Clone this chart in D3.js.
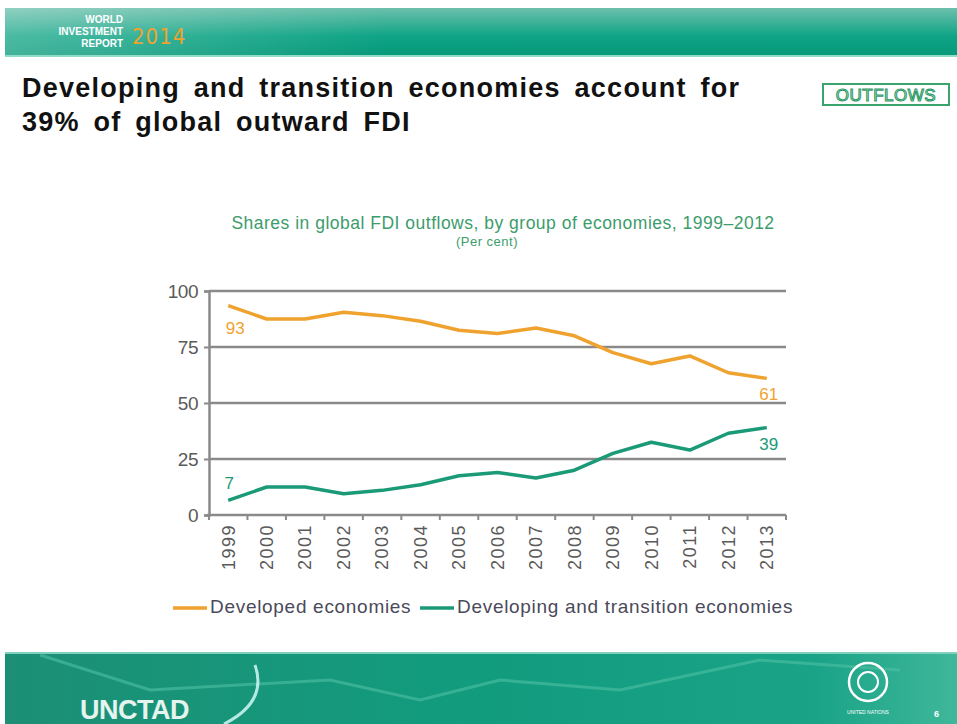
<!DOCTYPE html>
<html><head><meta charset="utf-8">
<script src="https://cdn.jsdelivr.net/npm/d3@7/dist/d3.min.js"></script>
<style>
html,body{margin:0;padding:0;background:#fff;}
svg{display:block;font-family:"Liberation Sans",Arial,sans-serif;}
</style></head>
<body><svg id="c" width="957" height="724"></svg>
<script>
const years = ["1999","2000","2001","2002","2003","2004","2005","2006","2007","2008","2009","2010","2011","2012","2013"];
const developed = [93.5,87.5,87.5,90.5,89,86.5,82.5,81,83.5,80,72.5,67.5,71,63.5,61];
const developing = [6.5,12.5,12.5,9.5,11,13.5,17.5,19,16.5,20,27.5,32.5,29,36.5,39];
const yTicks = [0,25,50,75,100];
const seriesNames = ["Developed economies","Developing and transition economies"];
const colors = ["#f0a22e","#1b9a78"];

const svg = d3.select("#c");
const defs = svg.append("defs");
const hg = defs.append("linearGradient").attr("id","hg").attr("x1",0).attr("x2",0).attr("y1",0).attr("y2",1);
hg.append("stop").attr("offset","0%").attr("stop-color","#6cc0ac");
hg.append("stop").attr("offset","60%").attr("stop-color","#0fa485");
hg.append("stop").attr("offset","100%").attr("stop-color","#06997a");
const hg2 = defs.append("linearGradient").attr("id","hg2").attr("x1",0).attr("x2",1);
hg2.append("stop").attr("offset","0%").attr("stop-color","#ffffff").attr("stop-opacity",0.25);
hg2.append("stop").attr("offset","40%").attr("stop-color","#ffffff").attr("stop-opacity",0);
const fg = defs.append("linearGradient").attr("id","fg").attr("x1",0).attr("x2",1);
fg.append("stop").attr("offset","0%").attr("stop-color","#1c8f76");
fg.append("stop").attr("offset","50%").attr("stop-color","#129c7e");
fg.append("stop").attr("offset","85%").attr("stop-color","#1aa387");
fg.append("stop").attr("offset","100%").attr("stop-color","#3fb79a");

// header
svg.append("rect").attr("x",5).attr("y",8).attr("width",952).attr("height",47).attr("fill","url(#hg)");
svg.append("rect").attr("x",5).attr("y",8).attr("width",952).attr("height",47).attr("fill","url(#hg2)");
svg.append("rect").attr("x",5).attr("y",55).attr("width",952).attr("height",2).attr("fill","#8fdcc8");
const hdr = svg.append("g").attr("fill","#fff").attr("font-weight","bold").attr("font-size",10).attr("text-anchor","end");
hdr.append("text").attr("x",123).attr("y",23).text("WORLD");
hdr.append("text").attr("x",123).attr("y",35).text("INVESTMENT");
hdr.append("text").attr("x",123).attr("y",47).text("REPORT");
svg.append("text").attr("x",132).attr("y",44).attr("fill","#f0a22e").attr("font-size",22).attr("font-family","'Liberation Sans Narrow','DejaVu Sans Condensed',sans-serif").attr("letter-spacing",1).text("2014");

// slide title
const tt = svg.append("g").attr("font-size",27).attr("font-weight","bold").attr("fill","#111").attr("word-spacing",5).attr("letter-spacing",1.25);
tt.append("text").attr("x",22).attr("y",97).text("Developing and transition economies account for");
tt.append("text").attr("x",22).attr("y",131).text("39% of global outward FDI");

// outflows box
svg.append("rect").attr("x",823).attr("y",84).attr("width",126).attr("height",21).attr("fill","#fff").attr("stroke","#3aa36e").attr("stroke-width",2);
svg.append("text").attr("x",886).attr("y",101).attr("text-anchor","middle").attr("font-size",17).attr("fill","#fff").attr("stroke","#2f9a66").attr("stroke-width",1.1).attr("letter-spacing",0.5).text("OUTFLOWS");

// chart titles
svg.append("text").attr("x",503).attr("y",229).attr("text-anchor","middle").attr("font-size",17.5).attr("letter-spacing",0.5).attr("fill","#3c9c6c").text("Shares in global FDI outflows, by group of economies, 1999\u20132012");
svg.append("text").attr("x",487).attr("y",246).attr("text-anchor","middle").attr("font-size",13).attr("letter-spacing",0.5).attr("fill","#3c9c6c").text("(Per cent)");

// scales
const x = d3.scaleBand().domain(years).range([209,786]);
const y = d3.scaleLinear().domain([0,100]).range([515,291]);

// grid
svg.append("g").selectAll("line").data(yTicks.filter(d=>d>0)).join("line")
  .attr("x1",209).attr("x2",786).attr("y1",d=>y(d)).attr("y2",d=>y(d))
  .attr("stroke","#8a8a8a").attr("stroke-width",2.5);

// y axis
const ya = svg.append("g").attr("transform","translate(209,0)")
  .call(d3.axisLeft(y).tickValues(yTicks).tickSize(5).tickPadding(6).tickFormat(d3.format("d")));
ya.select(".domain").attr("stroke","#8a8a8a").attr("stroke-width",2.5);
ya.selectAll(".tick line").attr("stroke","#8a8a8a").attr("stroke-width",2);
ya.selectAll("text").attr("font-size",19).attr("letter-spacing",-0.5).attr("fill","#5a5a5a").attr("font-family","'Liberation Sans',Arial,sans-serif");

// x axis
const xa = svg.append("g").attr("transform","translate(0,515)")
  .call(d3.axisBottom(x).tickSize(0).tickPadding(0));
xa.select(".domain").remove();
xa.selectAll("text").attr("transform","rotate(-90)").attr("text-anchor","end").attr("x",-9).attr("y",0).attr("dy","0.35em")
  .attr("font-size",18).attr("letter-spacing",1.5).attr("fill","#5a5a5a").attr("font-family","'Liberation Sans',Arial,sans-serif");
svg.append("line").attr("x1",207).attr("x2",786).attr("y1",515).attr("y2",515).attr("stroke","#8a8a8a").attr("stroke-width",2.5);
svg.append("g").selectAll("line").data(d3.range(years.length+1)).join("line")
  .attr("x1",i=>209+i*x.step()).attr("x2",i=>209+i*x.step()).attr("y1",515).attr("y2",520)
  .attr("stroke","#8a8a8a").attr("stroke-width",2);

// lines
const cx = d => x(d)+x.bandwidth()/2;
const line = d3.line().x((d,i)=>cx(years[i])).y(d=>y(d));
[developed,developing].forEach((s,k)=>{
  svg.append("path").datum(s).attr("d",line).attr("fill","none").attr("stroke",colors[k]).attr("stroke-width",3.5).attr("stroke-linejoin","round");
});

// labels
const lbl = svg.append("g").attr("font-size",17);
lbl.append("text").attr("x",cx(years[0])+7).attr("y",y(developed[0])+28).attr("text-anchor","middle").attr("fill",colors[0]).text(d3.format("d")(Math.round(developed[0]-0.5)));
lbl.append("text").attr("x",cx(years[14])+2).attr("y",y(developed[14])+22).attr("text-anchor","middle").attr("fill",colors[0]).text(d3.format("d")(developed[14]));
lbl.append("text").attr("x",cx(years[0])+1).attr("y",y(developing[0])-11).attr("text-anchor","middle").attr("fill",colors[1]).text(d3.format("d")(Math.round(developing[0]+0.5)));
lbl.append("text").attr("x",cx(years[14])+2).attr("y",y(developing[14])+22).attr("text-anchor","middle").attr("fill",colors[1]).text(d3.format("d")(developing[14]));

// legend
const lg = svg.append("g").attr("font-size",19).attr("fill","#4a4a5a");
const legPos = [173,420];
seriesNames.forEach((n,k)=>{
  lg.append("line").attr("x1",legPos[k]).attr("x2",legPos[k]+34).attr("y1",608).attr("y2",608).attr("stroke",colors[k]).attr("stroke-width",3.5);
  lg.append("text").attr("x",legPos[k]+37).attr("y",608).attr("dominant-baseline","middle").attr("letter-spacing",0.7).text(n);
});

// footer
svg.append("rect").attr("x",5).attr("y",652).attr("width",952).attr("height",72).attr("fill","url(#fg)");
svg.append("rect").attr("x",5).attr("y",652).attr("width",952).attr("height",2).attr("fill","#7fd0bc");
svg.append("polyline").attr("points","40,655 150,690 330,680 420,700 500,680 620,690 760,660 900,670")
  .attr("fill","none").attr("stroke","#4fc0a4").attr("stroke-width",3).attr("opacity",0.6);
svg.append("text").attr("x",80).attr("y",719).attr("fill","#e6f4ef").attr("font-size",27).attr("font-weight","bold").attr("letter-spacing",-0.5).text("UNCTAD");
svg.append("path").attr("d","M255,665 Q268,702 224,724").attr("fill","none").attr("stroke","#dff").attr("stroke-width",3).attr("opacity",0.8);
svg.append("circle").attr("cx",868).attr("cy",682).attr("r",19).attr("fill","none").attr("stroke","#fff").attr("stroke-width",2.5);
svg.append("circle").attr("cx",868).attr("cy",682).attr("r",10).attr("fill","none").attr("stroke","#fff").attr("stroke-width",2);
svg.append("text").attr("x",868).attr("y",714).attr("text-anchor","middle").attr("fill","#fff").attr("font-size",5).text("UNITED NATIONS");
svg.append("text").attr("x",934).attr("y",717).attr("fill","#fff").attr("font-size",9).attr("font-weight","bold").text("6");
</script></body></html>
